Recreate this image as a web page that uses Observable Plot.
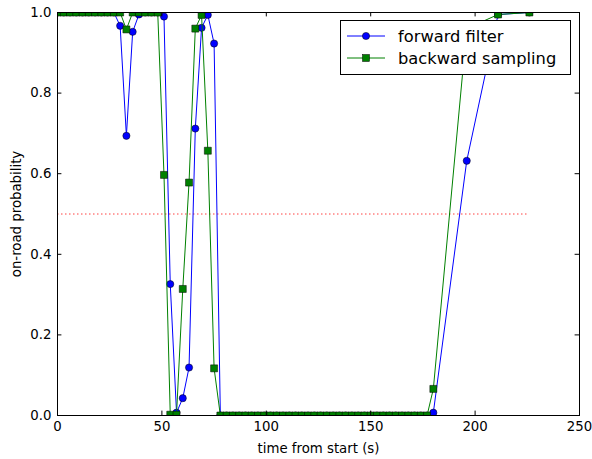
<!DOCTYPE html>
<html><head><meta charset="utf-8">
<script src="https://cdn.jsdelivr.net/npm/d3@7"></script>
<script src="https://cdn.jsdelivr.net/npm/@observablehq/plot@0.6"></script>
<style>body{margin:0;background:#fff}#chart{position:absolute;left:0;top:0}</style>
</head><body><div id="chart"></div>
<script>
const times = [0,3,6,9,12,15,18,21,24,27,30,33,36,39,42,45,48,51,54,57,60,63,66,69,72,75,
  78,81,84,87,90,93,96,99,102,105,108,111,114,117,120,123,126,129,132,135,138,141,144,147,
  150,153,156,159,162,165,168,171,174,177,180,196,211,226];
const forwardFilter = [1,1,1,1,1,1,1,1,1,1,
  0.967,0.694,0.952,0.995,1,1,1,0.99,0.326,0.007,0.043,0.119,0.712,0.962,0.994,0.923,
  0,0,0,0,0,0,0,0,0,0,0,0,0,0,0,0,0,0,0,0,0,0,0,0,0,0,0,0,0,0,0,0,0,0,
  0.007,0.632,0.995,1];
const backwardSampling = [1,1,1,1,1,1,1,1,1,1,
  1,0.958,1,1,1,1,1,0.597,0.002,0.002,0.314,0.578,0.96,0.994,0.657,0.117,
  0,0,0,0,0,0,0,0,0,0,0,0,0,0,0,0,0,0,0,0,0,0,0,0,0,0,0,0,0,0,0,0,0,0,
  0.066,0.96,0.995,1];
const thresholdValue = 0.5;
const thresholdSpan = [0, 226];
const xTicks = [0,50,100,150,200,250];
const yTicks = [0,0.2,0.4,0.6,0.8,1.0];
const seriesNames = ["forward filter", "backward sampling"];
const xLabel = "time from start (s)";
const yLabel = "on-road probability";

const BLUE = "#0000ff", GREEN = "#008000";
const W = 592, H = 459, mL = 57, mR = 13, mT = 12, mB = 44;
const plotW = W - mL - mR, plotH = H - mT - mB;
const TL = 4.4;
const CR = 3.6, SQ = 7.0;

const rows = times.map((t, i) => ({t, fwd: forwardFilter[i], bwd: backwardSampling[i]}));

const chart = Plot.plot({
  width: W, height: H,
  marginLeft: mL, marginRight: mR, marginTop: mT, marginBottom: mB,
  style: {fontFamily: "DejaVu Sans", fontSize: "13.3px", background: "white", color: "black"},
  x: {domain: [0, 250]},
  y: {domain: [0, 1]},
  marks: [
    Plot.axisX(xTicks, {tickSize: 0, tickPadding: 6, tickFormat: d => String(d),
      label: xLabel, labelAnchor: "center", labelOffset: 37, labelArrow: "none"}),
    Plot.axisY(yTicks, {tickSize: 0, tickPadding: 6, tickFormat: d => d.toFixed(1),
      label: yLabel, labelAnchor: "center", labelOffset: 46, labelArrow: "none"}),
    Plot.ruleY([thresholdValue], {x1: thresholdSpan[0], x2: thresholdSpan[1], stroke: "#ff0000",
      strokeOpacity: 0.75, strokeDasharray: "1.5,2.5", strokeWidth: 1}),
    Plot.line(rows, {x: "t", y: "fwd", stroke: BLUE, strokeWidth: 1, clip: true}),
    Plot.dot(rows, {x: "t", y: "fwd", r: CR, fill: BLUE, stroke: "black", strokeWidth: 0.5, clip: true}),
    Plot.line(rows, {x: "t", y: "bwd", stroke: GREEN, strokeWidth: 1, clip: true}),
    Plot.dot(rows, {x: "t", y: "bwd", symbol: "square", r: SQ / Math.sqrt(Math.PI), fill: GREEN, stroke: "black", strokeWidth: 0.5, clip: true}),
    Plot.tickX(xTicks, {x: d => d, insetTop: plotH - TL, stroke: "black"}),
    Plot.tickX(xTicks, {x: d => d, insetBottom: plotH - TL, stroke: "black"}),
    Plot.tickY(yTicks, {y: d => d, insetRight: plotW - TL, stroke: "black"}),
    Plot.tickY(yTicks, {y: d => d, insetLeft: plotW - TL, stroke: "black"}),
    Plot.frame({stroke: "black", strokeWidth: 1})
  ]
});
document.getElementById("chart").appendChild(chart);

// legend inside the axes (top right)
const svg = d3.select(chart);
const lg = svg.append("g").attr("font-family", "DejaVu Sans").attr("font-size", 16.3)
  .attr("fill", "black").attr("text-anchor", "start");
lg.append("rect").attr("x", 340.5).attr("y", 20.5).attr("width", 230).attr("height", 54)
  .attr("fill", "white").attr("stroke", "black").attr("stroke-width", 1);
const legendRows = [
  {name: seriesNames[0], color: BLUE, sym: "circle", y: 36},
  {name: seriesNames[1], color: GREEN, sym: "square", y: 58}
];
legendRows.forEach(e => {
  lg.append("line").attr("x1", 347).attr("x2", 385).attr("y1", e.y).attr("y2", e.y)
    .attr("stroke", e.color).attr("stroke-width", 1);
  const x = 366;
  if (e.sym === "circle") {
    lg.append("circle").attr("cx", x).attr("cy", e.y).attr("r", CR)
      .attr("fill", e.color).attr("stroke", "black").attr("stroke-width", 0.5);
  } else {
    lg.append("rect").attr("x", x - SQ / 2).attr("y", e.y - SQ / 2).attr("width", SQ).attr("height", SQ)
      .attr("fill", e.color).attr("stroke", "black").attr("stroke-width", 0.5);
  }
  lg.append("text").attr("x", 398).attr("y", e.y).attr("dy", "0.35em")
    .attr("text-anchor", "start").text(e.name);
});
</script>
</body></html>
